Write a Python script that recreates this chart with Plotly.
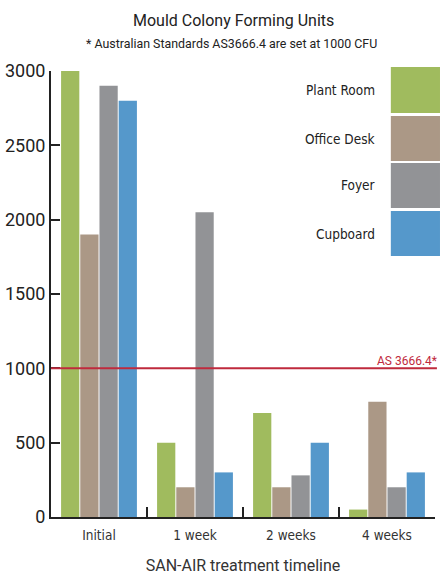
import plotly.graph_objects as go

categories = ["Initial", "1 week", "2 weeks", "4 weeks"]
series_names = ["Plant Room", "Office Desk", "Foyer", "Cupboard"]
plant_room = [3000, 500, 700, 50]
office_desk = [1900, 200, 200, 775]
foyer = [2900, 2050, 280, 200]
cupboard = [2800, 300, 500, 300]
standard_value = 1000
standard_label = "AS 3666.4*"
y_ticks = [0, 500, 1000, 1500, 2000, 2500, 3000]

colors = ["#a0bb5e", "#ab9886", "#929396", "#5598cb"]
values = [plant_room, office_desk, foyer, cupboard]

NARROW = "DejaVu Sans Condensed, Roboto, sans-serif"
REG = "Roboto, Liberation Sans, sans-serif"

fig = go.Figure()
for name, vals, col in zip(series_names, values, colors):
    fig.add_trace(go.Bar(x=categories, y=vals, name=name, marker_color=col,
                         marker_line_width=0, showlegend=False))

fig.update_layout(
    width=447, height=575,
    margin=dict(l=51, r=12, t=71, b=58),
    paper_bgcolor="white", plot_bgcolor="white",
    barmode="group", bargap=0.2, bargroupgap=0.05,
    font=dict(family=REG, color="#222"),
    xaxis=dict(showline=True, linecolor="#222", linewidth=2, automargin=False,
               ticks="inside", tickson="boundaries", ticklen=10, tickwidth=2, tickcolor="#222",
               tickfont=dict(size=13.5, family=NARROW, color="#333"), ticklabelstandoff=5,
               title=dict(text="SAN-AIR treatment timeline", font=dict(size=16, family=REG, color="#333"), standoff=18),
               showgrid=False, zeroline=False),
    yaxis=dict(range=[0, 3000], tickvals=y_ticks, showline=True, linecolor="#222", linewidth=2,
               automargin=False,
               ticks="inside", ticklen=9, tickwidth=2, tickcolor="#222",
               tickfont=dict(size=18, family=REG, color="#222"),
               showgrid=False, zeroline=False),
)

fig.add_shape(type="line", xref="paper", x0=0, x1=1.005, yref="y", y0=standard_value, y1=standard_value,
              line=dict(color="#bf2a3d", width=2), layer="above")
fig.add_annotation(xref="paper", x=1.01, yref="y", y=standard_value, text=standard_label,
                   xanchor="right", yanchor="bottom", showarrow=False, yshift=-2,
                   font=dict(size=12, color="#bf2a3d", family=REG))

# title & subtitle
fig.add_annotation(xref="paper", x=0.5, yref="paper", y=1.0, yshift=51, text="Mould Colony Forming Units",
                   showarrow=False, xanchor="center", yanchor="middle", xshift=-10,
                   font=dict(size=16, family=REG, color="#222"))
fig.add_annotation(xref="paper", x=0.5, yref="paper", y=1.0, yshift=28,
                   text="* Australian Standards AS3666.4 are set at 1000 CFU",
                   showarrow=False, xanchor="center", yanchor="middle", xshift=-12,
                   font=dict(size=12.4, family=REG, color="#222"))

# custom legend
leg_top = [1.009, 0.899, 0.794, 0.686]
leg_bot = [0.906, 0.798, 0.693, 0.585]
for name, col, t, b in zip(series_names, colors, leg_top, leg_bot):
    fig.add_shape(type="rect", xref="paper", yref="paper", x0=0.885, x1=1.013, y0=b, y1=t,
                  fillcolor=col, line_width=0, layer="above")
    fig.add_annotation(xref="paper", yref="paper", x=0.85, y=(t + b) / 2, text=name,
                       xanchor="right", yanchor="middle", showarrow=False,
                       font=dict(size=13.5, family=NARROW, color="#222"))

fig.write_html("out.html", config={"displayModeBar": False},
               post_script="document.body.style.margin='0px';")
